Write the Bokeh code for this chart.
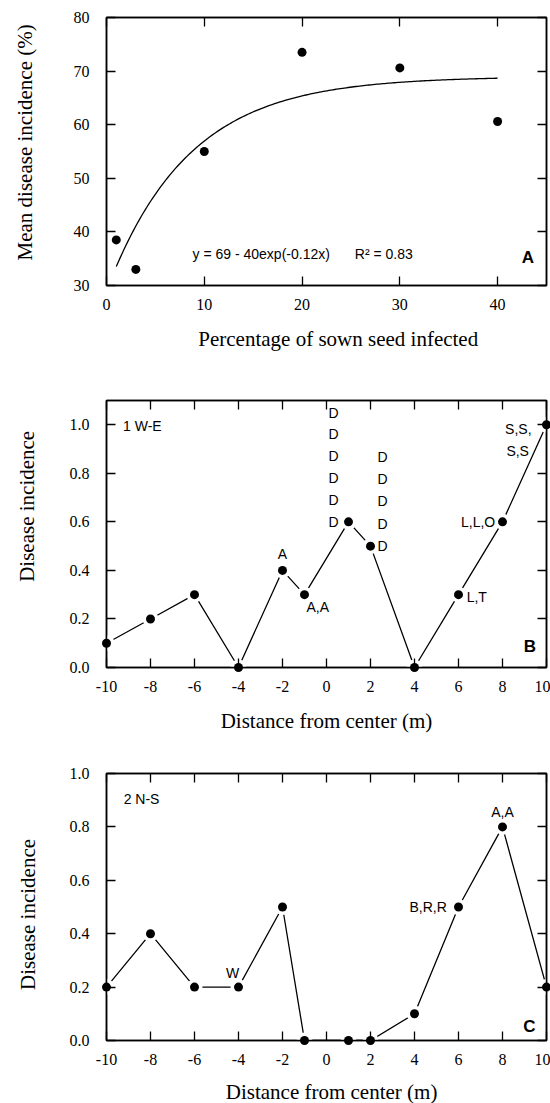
import numpy as np
from bokeh.plotting import figure
from bokeh.models import Range1d, LinearAxis, FixedTicker, Label, PrintfTickFormatter
from bokeh.layouts import column
from bokeh.embed import file_html
from bokeh.resources import INLINE
from bokeh.core.properties import value

# ---------------- data ----------------
# Panel A
a_seed_infected = [1, 3, 10, 20, 30, 40]
a_mean_incidence = [38.5, 33.0, 55.0, 73.5, 70.6, 60.6]
fit_asymptote, fit_amplitude, fit_rate = 69, 40, 0.12   # y = 69 - 40exp(-0.12x)
fit_x_start, fit_x_end = 1, 40
a_xticks = [0, 10, 20, 30, 40]
a_yticks = [30, 40, 50, 60, 70, 80]

# Panel B (1 W-E)
b_distance = [-10, -8, -6, -4, -2, -1, 1, 2, 4, 6, 8, 10]
b_incidence = [0.1, 0.2, 0.3, 0.0, 0.4, 0.3, 0.6, 0.5, 0.0, 0.3, 0.6, 1.0]

# Panel C (2 N-S)
c_distance = [-10, -8, -6, -4, -2, -1, 1, 2, 4, 6, 8, 10]
c_incidence = [0.2, 0.4, 0.2, 0.2, 0.5, 0.0, 0.0, 0.0, 0.1, 0.5, 0.8, 0.2]

dist_ticks = [-10, -8, -6, -4, -2, 0, 2, 4, 6, 8, 10]
inc_ticks = [0.0, 0.2, 0.4, 0.6, 0.8, 1.0]

# ---------------- styling helpers ----------------
SERIF = "Liberation Serif"
SANS = "Liberation Sans"
W = 550
MB_LEFT = 106
MB_RIGHT = 4


def style_axis(ax, ticks, show_labels=True, standoff=13):
    ax.ticker = FixedTicker(ticks=ticks)
    ax.axis_line_color = "black"
    ax.axis_line_width = 1.5
    ax.major_tick_line_color = "black"
    ax.major_tick_line_width = 1.3
    ax.major_tick_in = 9
    ax.major_tick_out = 0
    ax.minor_tick_line_color = None
    if show_labels:
        ax.major_label_text_font = SERIF
        ax.major_label_text_font_size = "16px"
        ax.major_label_text_color = "black"
        ax.major_label_standoff = standoff
    else:
        ax.major_label_text_color = None
        ax.major_label_text_font_size = "1px"
        ax.major_label_standoff = 0


def make_fig(xr, yr, height, mbt, mbb, xticks, yticks, xfmt, yfmt):
    p = figure(width=W, height=height, x_range=Range1d(*xr), y_range=Range1d(*yr),
               output_backend="svg", toolbar_location=None,
               min_border_left=MB_LEFT, min_border_right=MB_RIGHT,
               min_border_top=mbt, min_border_bottom=mbb)
    p.grid.visible = False
    p.outline_line_color = "black"
    p.outline_line_width = 1.5
    p.background_fill_color = "white"
    p.border_fill_color = "white"
    style_axis(p.xaxis[0], xticks, True, 13)
    style_axis(p.yaxis[0], yticks, True, 17)
    p.xaxis[0].formatter = PrintfTickFormatter(format=xfmt)
    p.yaxis[0].formatter = PrintfTickFormatter(format=yfmt)
    top = LinearAxis()
    style_axis(top, xticks, False)
    p.add_layout(top, "above")
    right = LinearAxis()
    style_axis(right, yticks, False)
    p.add_layout(right, "right")
    return p


def axis_title(p, x, y, text, vertical=False):
    r = p.text(x=[x], y=[y], text=[text], angle=np.pi / 2 if vertical else 0.0,
               text_align="center", text_baseline="middle", text_font=value(SERIF),
               text_font_size="21px", text_color="black")
    r.level = "overlay"


def note(p, x, y, text, align="center", size="14px", bold=False):
    p.add_layout(Label(x=x, y=y, text=text, text_align=align, text_baseline="middle",
                       text_font=SANS, text_font_size=size, text_color="black",
                       text_font_style="bold" if bold else "normal"))


def series(p, xs, ys):
    p.line(xs, ys, line_color="black", line_width=1.3)
    p.scatter(xs, ys, size=16, fill_color="white", line_color=None)
    dots = p.scatter(xs, ys, size=9, fill_color="black", line_color=None)
    dots.level = "overlay"


# ---------------- Panel A ----------------
pA = make_fig((0, 45), (30, 80), 370, 17, 85, a_xticks, a_yticks, "%d", "%d")
fx = np.linspace(fit_x_start, fit_x_end, 200)
fy = fit_asymptote - fit_amplitude * np.exp(-fit_rate * fx)
pA.line(fx, fy, line_color="black", line_width=1.3)
pA.scatter(a_seed_infected, a_mean_incidence, size=9, fill_color="black", line_color=None)
axis_title(pA, -8.33, 56.7, "Mean disease incidence (%)", vertical=True)
axis_title(pA, 23.7, 20.1, "Percentage of sown seed infected")
note(pA, 8.8, 35.8, "y = 69 - 40exp(-0.12x)", align="left")
note(pA, 25.4, 35.8, "R² = 0.83", align="left")
note(pA, 43.1, 35.3, "A", size="17px", bold=True)

# ---------------- Panel B ----------------
pB = make_fig((-10, 10), (0, 1.1), 370, 30, 73, dist_ticks, inc_ticks, "%d", "%.1f")
series(pB, b_distance, b_incidence)
axis_title(pB, -13.6, 0.664, "Disease incidence", vertical=True)
axis_title(pB, 0.0, -0.219, "Distance from center (m)")
note(pB, -9.25, 0.997, "1 W-E", align="left")
for k in range(6):
    note(pB, 0.32, 0.6 + 0.09 * k, "D")
for k in range(5):
    note(pB, 2.55, 0.5 + 0.092 * k, "D")
note(pB, -2.0, 0.469, "A")
note(pB, -0.4, 0.249, "A,A")
note(pB, 6.83, 0.29, "L,T")
note(pB, 6.89, 0.6, "L,L,O")
note(pB, 8.72, 0.983, "S,S,")
note(pB, 8.69, 0.894, "S,S")
note(pB, 9.25, 0.085, "B", size="17px", bold=True)

# ---------------- Panel C ----------------
pC = make_fig((-10, 10), (0, 1.0), 363, 33, 63, dist_ticks, inc_ticks, "%d", "%.1f")
series(pC, c_distance, c_incidence)
axis_title(pC, -13.56, 0.472, "Disease incidence", vertical=True)
axis_title(pC, 0.23, -0.194, "Distance from center (m)")
note(pC, -9.22, 0.906, "2 N-S", align="left")
note(pC, 8.0, 0.856, "A,A")
note(pC, 4.62, 0.5, "B,R,R")
note(pC, -4.27, 0.252, "W")
note(pC, 9.22, 0.052, "C", size="17px", bold=True)

layout = column(pA, pB, pC)
open("out.html", "w").write(file_html(layout, INLINE))
